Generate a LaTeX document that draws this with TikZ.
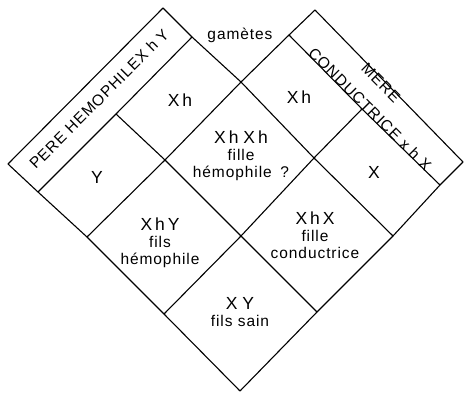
\documentclass[tikz,border=0pt]{standalone}
\usepackage{fontspec}
\setmainfont{Liberation Sans}
\newfontfamily\lsfam[LetterSpace=6]{Liberation Sans}
\newfontfamily\bnfam[LetterSpace=6]{Liberation Sans}
\newcommand\labfont{\lsfam\fontsize{15.5}{17}\selectfont}
\newcommand\genofont{\lsfam\fontsize{17.5}{19}\selectfont}
\newcommand\banfont{\bnfam\fontsize{15.5}{17}\selectfont}
\begin{document}
\begin{tikzpicture}[x=1pt,y=-1pt,line width=1.1pt,
  cell/.style={font=\labfont,align=center,inner sep=0pt},
  geno/.style={font=\genofont,inner sep=0pt},
  bantext/.style={font=\banfont,inner sep=0pt}]
\useasboundingbox (0,0) rectangle (464,396);
% inner grid
\coordinate (T0) at (241,82);
\coordinate (L0) at (87,237);
\coordinate (R0) at (393,236);
\coordinate (B0) at (240,391);
\coordinate (C) at (241,236);
\coordinate (ULm) at (165,160);
\coordinate (URm) at (314,158);
\coordinate (LLm) at (164,314);
\coordinate (LRm) at (317,312);
% left banner
\coordinate (LBo1) at (163,8);
\coordinate (LBi1) at (192,37);
\coordinate (LBo2) at (8,164);
\coordinate (LBi2) at (38,192);
\coordinate (LDiv) at (116,114);
% right banner
\coordinate (RBo1) at (315,10);
\coordinate (RBi1) at (289,35);
\coordinate (RBi2) at (440,185);
\coordinate (RBo2) at (463,162);
\coordinate (RDiv) at (362,109);
% lines
\draw (LBo1) -- (LBi1) -- (T0) -- (URm) -- (R0);
\draw (B0) -- (LRm) -- (R0) -- (RBi2) -- (RBo2);
\draw (B0) -- (LLm) -- (L0) -- (LBi2) -- (LBo2);
\draw (L0) -- (ULm) -- (T0) -- (RBi1) -- (RBo1);
\draw (ULm) -- (C) -- (LRm);
\draw (URm) -- (C) -- (LLm);
\draw (LBi1) -- (LDiv) -- (LBi2);
\draw (LBo1) -- (LBo2);
\draw (ULm) -- (LDiv);
\draw (RBi1) -- (RDiv) -- (RBi2);
\draw (RBo1) -- (RBo2);
\draw (URm) -- (RDiv);
% texts
\node[cell] (gam) at (240,35) {gamètes};
\node[geno] (fXh) at (180,100) {X\,h};
\node[geno] (fY) at (97,177) {Y};
\node[geno] (mXh) at (299,97) {X\,h};
\node[geno] (mX) at (374,172) {X};
\node[cell] (cXhXh) at (241,156) {{\genofont X\,h\;X\,h}\\ fille\\ hémophile\;\;?};
\node[cell] (cXhY) at (160,243) {{\genofont X\,h\,Y}\\ fils\\ hémophile};
\node[cell] (cXhX) at (315,235) {{\genofont X\,h\,X}\\ fille\\ conductrice};
\node[cell] (cXY) at (240,312) {{\genofont X\;Y}\\ fils sain};
\node[bantext,rotate=45] (pere) at (99,99) {PERE HEMOPHILEX h Y};
\node[bantext,rotate=-45] (mere) at (381,83) {MERE};
\node[bantext,rotate=-45] (cond) at (370,109) {CONDUCTRICE x h X};
\end{tikzpicture}
\end{document}
